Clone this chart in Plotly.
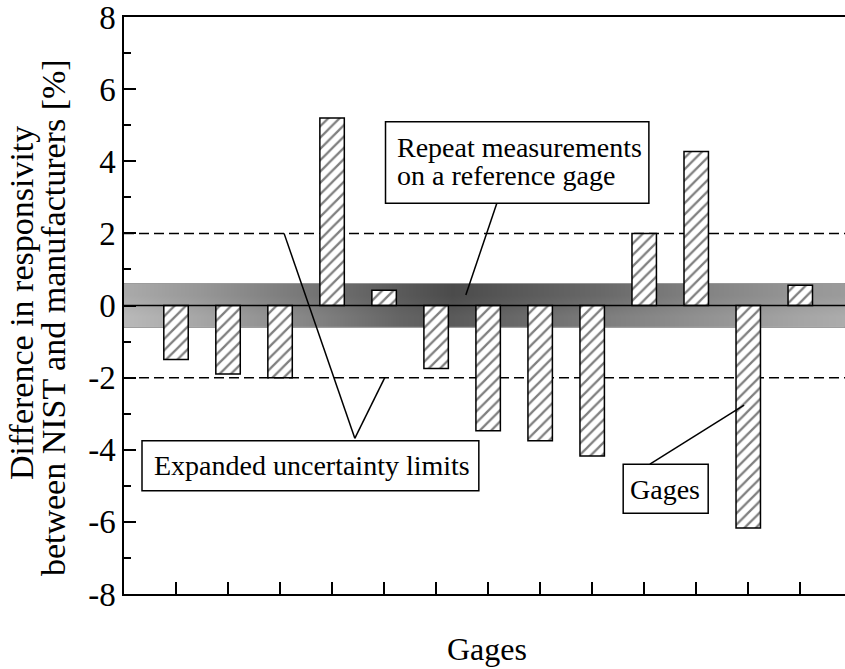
import plotly.graph_objects as go

# ---- data ----
gages = list(range(1, 14))
differences = [-1.5, -1.9, -2.0, 5.2, 0.42, -1.75, -3.47, -3.75, -4.17, 2.0, 4.27, -6.17, 0.56]
reference_uncertainty = 0.6      # repeat measurements band (+/-)
expanded_limit = 2.0             # expanded uncertainty limits (+/-)
y_tick_vals = [-8, -6, -4, -2, 0, 2, 4, 6, 8]
y_tick_labels = ["-8", "-6", "-4", "-2", "0", "2", "4", "6", "8"]
y_minor_vals = [-7, -5, -3, -1, 1, 3, 5, 7]

# ---- style (band shading) ----
band_x = [0.0, 1.5, 3.4, 5.3, 6.3, 7.2, 9.2, 11.1, 13.0, 13.86]
band_upper_grey = [170, 150, 120, 90, 75, 85, 105, 130, 150, 155]
band_lower_grey = [185, 165, 135, 100, 90, 100, 125, 145, 165, 172]

XMAX = 13.86
FONT = "Liberation Serif"

fig = go.Figure()

fig.add_trace(go.Heatmap(
    x=band_x, y=[-reference_uncertainty / 2, reference_uncertainty / 2],
    z=[band_lower_grey, band_upper_grey],
    zmin=0, zmax=255, zsmooth="best",
    colorscale=[[0, "rgb(0,0,0)"], [1, "rgb(255,255,255)"]],
    showscale=False, hoverinfo="skip",
))

fig.add_trace(go.Bar(
    x=gages, y=differences, width=0.47,
    marker=dict(color="white", line=dict(color="black", width=1.5),
                pattern=dict(shape="/", fgcolor="black", bgcolor="white",
                             size=8, solidity=0.28)),
    hoverinfo="skip",
))

# zero line above band
fig.add_trace(go.Scatter(x=[0, XMAX], y=[0, 0], mode="lines",
                         line=dict(color="black", width=1.5), hoverinfo="skip"))

shapes = []
for lim in (expanded_limit, -expanded_limit):
    shapes.append(dict(type="line", xref="x", yref="y", x0=0, x1=XMAX, y0=lim, y1=lim,
                       line=dict(color="black", width=1.5, dash="10px,5px"), layer="below"))
# band outline
shapes.append(dict(type="rect", xref="x", yref="y", x0=0, x1=XMAX,
                   y0=-reference_uncertainty, y1=reference_uncertainty,
                   line=dict(color="rgba(60,60,60,0.8)", width=1), layer="below"))

# leader lines
leaders = [
    (3.077, 2.0, 4.437, -3.683),
    (5.013, -2.0, 4.437, -3.683),
    (7.167, 2.834, 6.571, 0.291),
    (10.11, -4.40, 11.92, -2.76),
]
for x0, y0, x1, y1 in leaders:
    shapes.append(dict(type="line", xref="x", yref="y", x0=x0, y0=y0, x1=x1, y1=y1,
                       line=dict(color="black", width=1.5), layer="above"))

# label boxes
boxes = [
    (5.027, 2.834, 10.09, 5.097),
    (0.346, -5.136, 6.821, -3.749),
    (9.596, -5.76, 11.23, -4.40),
]
for x0, y0, x1, y1 in boxes:
    shapes.append(dict(type="rect", xref="x", yref="y", x0=x0, y0=y0, x1=x1, y1=y1,
                       fillcolor="white", line=dict(color="black", width=1.5), layer="above"))

afont = dict(family=FONT, size=28, color="black")
annotations = [
    dict(x=5.206, y=4.39, xref="x", yref="y", text="Repeat measurements",
         xanchor="left", yanchor="middle", showarrow=False, font=afont),
    dict(x=5.206, y=3.605, xref="x", yref="y", text="on a reference gage",
         xanchor="left", yanchor="middle", showarrow=False, font=afont),
    dict(x=3.619, y=-4.437, xref="x", yref="y", text="Expanded uncertainty limits",
         xanchor="center", yanchor="middle", showarrow=False, font=afont),
    dict(x=10.40, y=-5.10, xref="x", yref="y", text="Gages",
         xanchor="center", yanchor="middle", showarrow=False, font=afont),
    # axis titles
    dict(x=0.504, y=-0.0953, xref="paper", yref="paper", text="Gages",
         xanchor="center", yanchor="middle", showarrow=False,
         font=dict(family=FONT, size=32, color="black")),
    dict(x=-0.1422, y=0.505, xref="paper", yref="paper", text="Difference in responsivity",
         textangle=-90, xanchor="center", yanchor="middle", showarrow=False,
         font=dict(family=FONT, size=34, color="black")),
    dict(x=-0.0978, y=0.479, xref="paper", yref="paper",
         text="between NIST and manufacturers [%]",
         textangle=-90, xanchor="center", yanchor="middle", showarrow=False,
         font=dict(family=FONT, size=34, color="black")),
]

fig.update_layout(
    width=845, height=669,
    margin=dict(l=124, r=0, t=17, b=75, autoexpand=False),
    paper_bgcolor="white", plot_bgcolor="white",
    showlegend=False,
    shapes=shapes, annotations=annotations,
    font=dict(family=FONT, color="black"),
    xaxis=dict(range=[0, XMAX], showgrid=False, zeroline=False, automargin=False,
               showline=True, linecolor="black", linewidth=1.5, mirror=True,
               tickvals=gages, showticklabels=False,
               ticks="inside", ticklen=12, tickwidth=1.5, tickcolor="black"),
    yaxis=dict(range=[-8, 8], showgrid=False, zeroline=False, automargin=False,
               showline=True, linecolor="black", linewidth=1.5,
               tickvals=y_tick_vals, ticktext=y_tick_labels,
               ticks="inside", ticklen=12, tickwidth=1.5, tickcolor="black",
               ticklabeloverflow="allow",
               tickfont=dict(family=FONT, size=33, color="black"),
               minor=dict(tickvals=y_minor_vals, ticks="inside", ticklen=7,
                          tickwidth=1.5, tickcolor="black")),
)

fig.write_html("out.html",
               config={"displayModeBar": False},
               post_script="document.body.style.margin='0';document.body.style.padding='0';")
